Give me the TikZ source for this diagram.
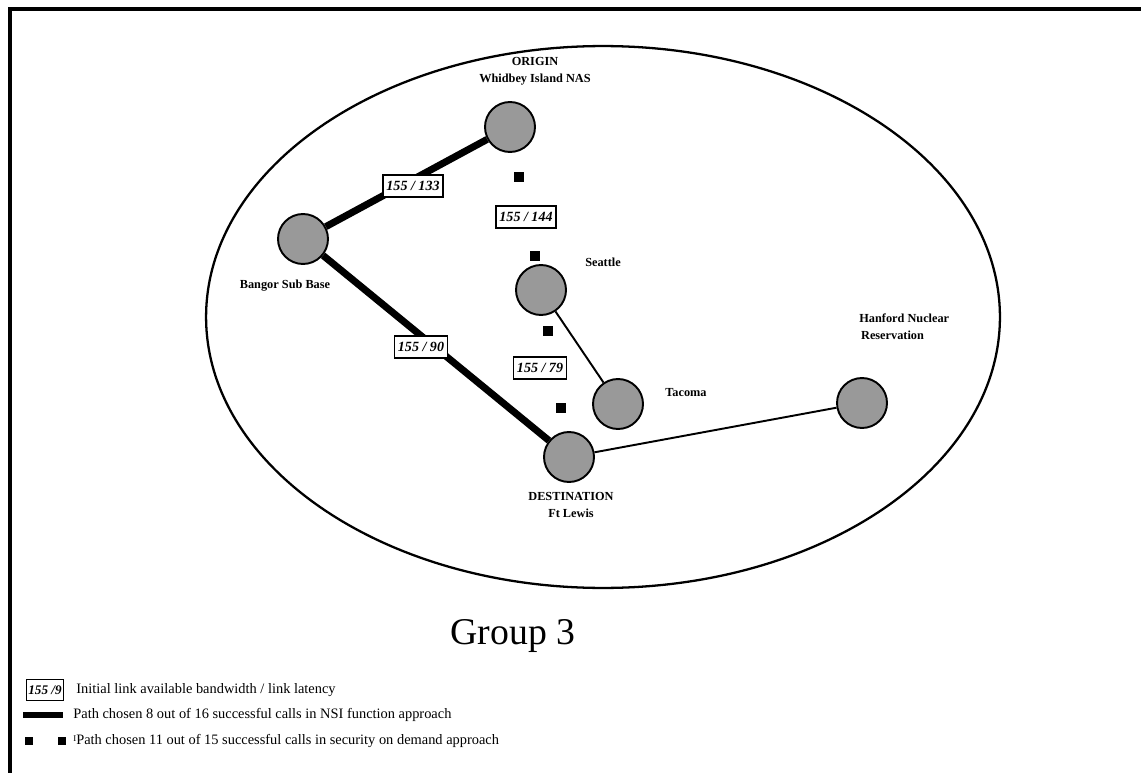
\documentclass[tikz,border=0pt]{standalone}
\usepackage{fontspec}
\setmainfont{Liberation Serif}
\begin{document}
\begin{tikzpicture}[x=0.02cm,y=-0.02cm,
  site/.style={circle, draw, line width=1.1pt, fill=black!40, minimum size=1cm, inner sep=0pt},
  nsi/.style={line width=4pt},
  link/.style={line width=1.1pt},
  sq/.style={rectangle, fill=black, minimum size=0.2cm, inner sep=0pt},
  lsq/.style={rectangle, fill=black, minimum size=0.16cm, inner sep=0pt},
  bw/.style={draw, line width=0.9pt, fill=white, minimum height=0.44cm, inner xsep=2pt, inner ysep=0pt,
    font=\fontsize{8}{9}\selectfont\bfseries\itshape},
  place/.style={font=\fontsize{7}{9.5}\selectfont\bfseries, align=center, inner sep=0pt},
  legendtext/.style={font=\fontsize{8.2}{10}\selectfont, anchor=west, inner sep=0pt}]
\useasboundingbox (0,0) rectangle (1141,773);

% page frame
\draw[line width=2.4pt] (10,9) rectangle (1170,800);

% region outline
\draw[line width=1.3pt] (603,317) ellipse [x radius=7.94cm, y radius=5.42cm];

% sites
\node[site] (origin) at (510,127) {};
\node[site] (bangor) at (303,239) {};
\node[site] (seattle) at (541,290) {};
\node[site] (tacoma) at (618,404) {};
\node[site] (dest) at (569,457) {};
\node[site] (hanford) at (862,403) {};

% links
\draw[nsi] (origin) -- (bangor);
\draw[nsi] (bangor) -- (dest);
\draw[link] (seattle) -- (tacoma);
\draw[link] (dest) -- (hanford);

% security-on-demand path markers
\path (origin) -- (seattle)
  node[sq, pos=0.215] (m1) {}
  node[sq, pos=0.926] (m2) {};
\path (seattle) -- (dest)
  node[sq, pos=0.13] (m3) {}
  node[sq, pos=0.80] (m4) {};

% bandwidth / latency tags
\node[bw] (t133) at (413,186) {155 / 133};
\node[bw] (t144) at (526,217) {155 / 144};
\node[bw] (t90) at (421,347) {155 / 90};
\node[bw] (t79) at (540,368) {155 / 79};

% site names
\node[place] (lorigin) at (535,71) {ORIGIN\\Whidbey Island NAS};
\node[place] (lseattle) at (603,262) {Seattle};
\node[place] (lbangor) at (285,286) {Bangor Sub Base};
\node[place] (ltacoma) at (686,393) {Tacoma};
\node[place, align=left, anchor=west] (lhanford) at (859,327) {Hanford Nuclear\\\hspace{1pt}Reservation};
\node[place] (ldest) at (571,505) {DESTINATION\\Ft Lewis};

% title
\node[font=\fontsize{21.5}{24}\selectfont] (title) at (513,636) {Group 3};

% legend
\node[bw, inner xsep=1pt, minimum height=0.42cm, font=\fontsize{7.5}{9}\selectfont\bfseries\itshape] (lgbox) at (45,690) {155 /9};
\node[legendtext] (lgt1) at (76,690) {Initial link available bandwidth / link latency};
\coordinate (lga) at (23,715);
\coordinate (lgb) at (63,715);
\draw[line width=3pt] (lga) -- (lgb);
\node[legendtext] (lgt2) at (73,715) {Path chosen 8 out of 16 successful calls in NSI function approach};
\node[lsq] (lgs1) at (29,741) {};
\node[lsq] (lgs2) at (62,741) {};
\node[legendtext] (lgt3) at (73,741) {\raisebox{0.45ex}{\fontsize{5}{5}\selectfont I}Path chosen 11 out of 15 successful calls in security on demand approach};
\end{tikzpicture}
\end{document}
